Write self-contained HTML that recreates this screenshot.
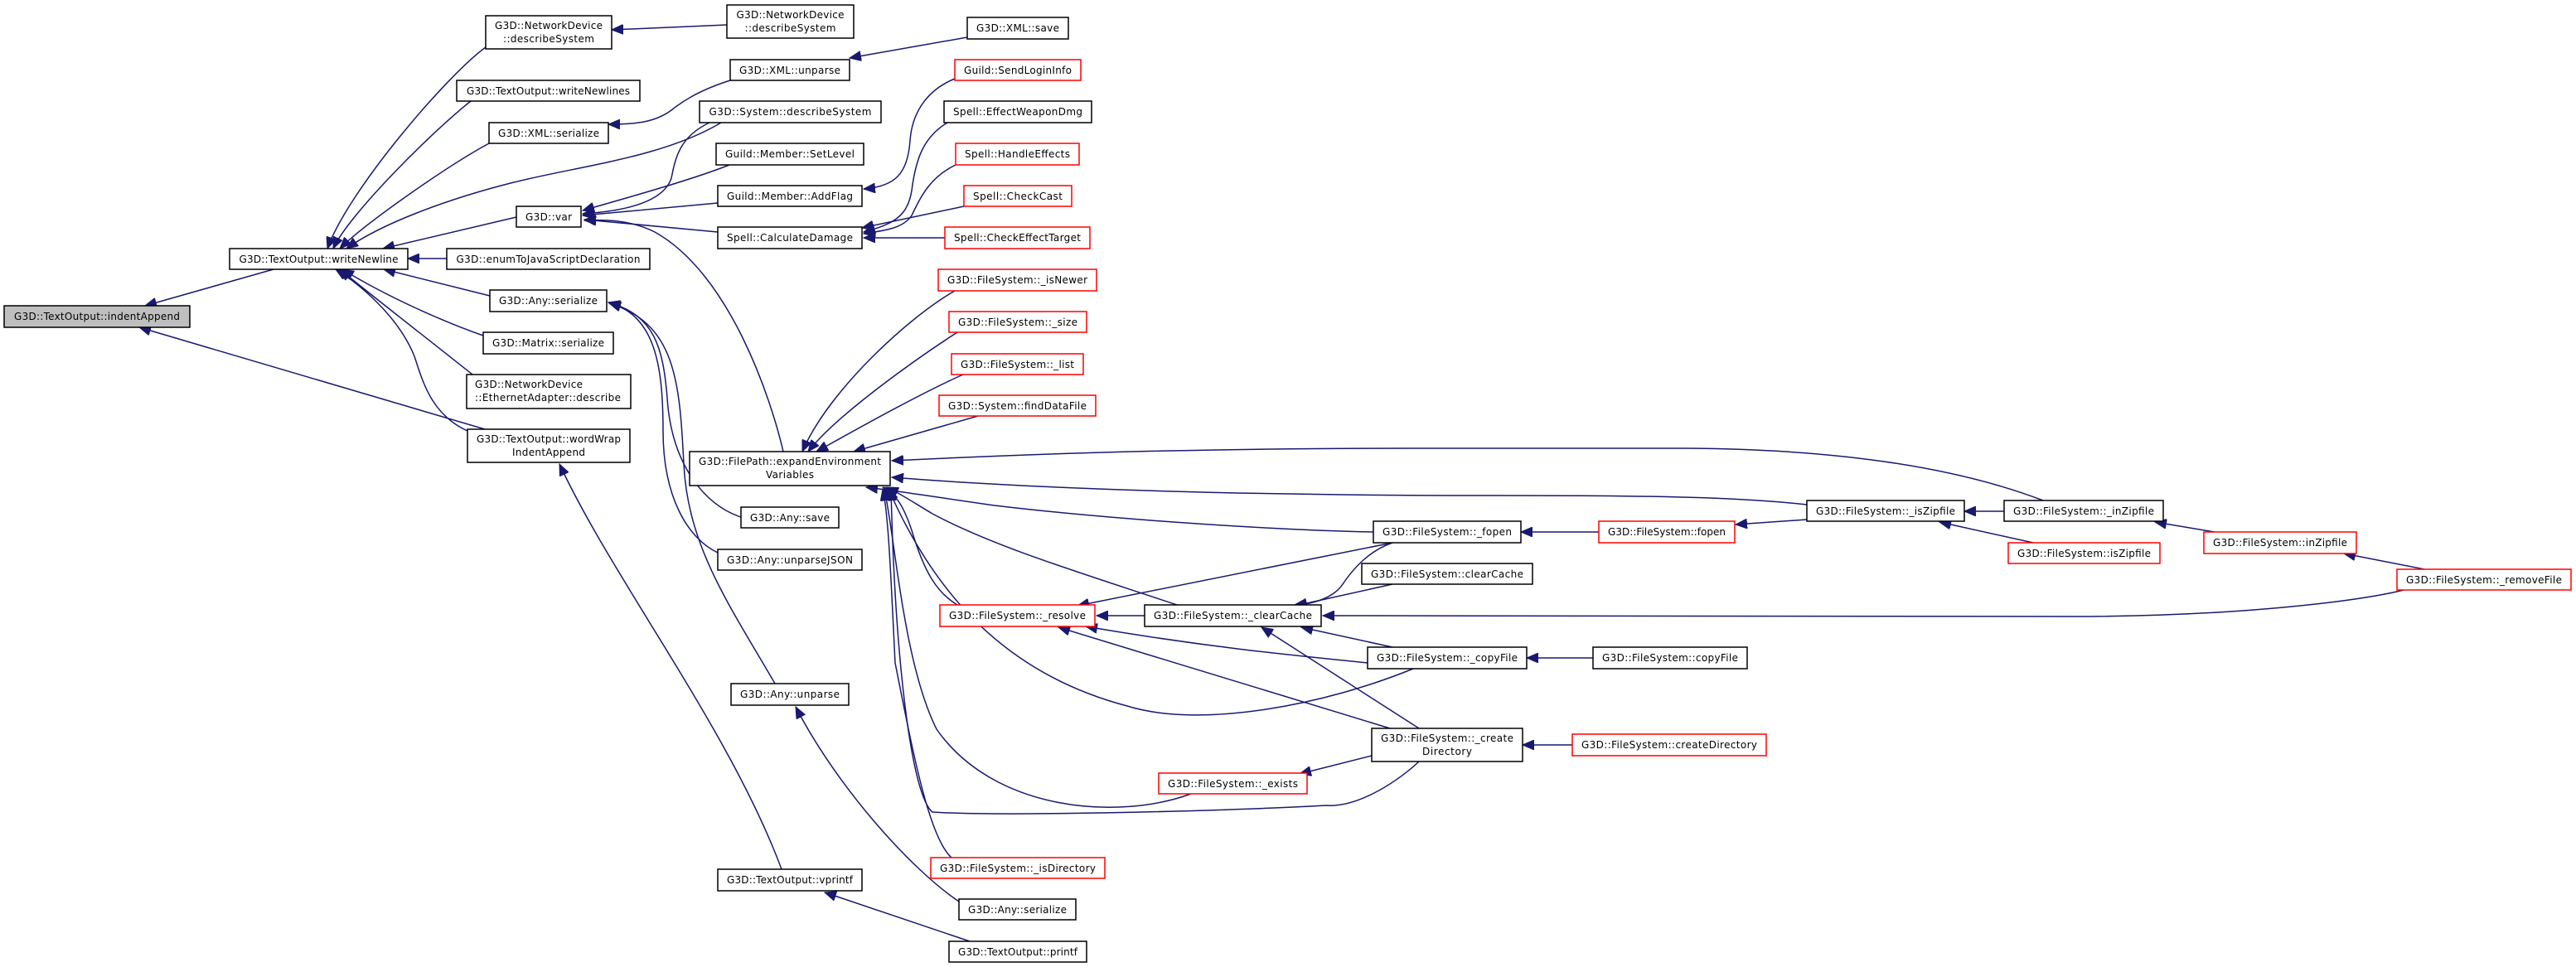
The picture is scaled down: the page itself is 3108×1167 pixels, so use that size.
<!DOCTYPE html>
<html><head><meta charset="utf-8"><style>
html,body{margin:0;padding:0;background:#fff;}
svg{display:block;}
text{font-family:"DejaVu Sans","Liberation Sans",sans-serif;font-size:12px;fill:#000;}
.n{fill:#fff;stroke:#000;stroke-width:1.5;}
.r{fill:#fff;stroke:#ff0000;stroke-width:1.5;}
.g{fill:#bfbfbf;stroke:#000;stroke-width:1.5;}
.e{fill:none;stroke:#191970;stroke-width:1.5;marker-end:url(#a);}
</style></head><body>
<svg width="3108" height="1167" viewBox="0 0 3108 1167" xmlns="http://www.w3.org/2000/svg">
<defs><marker id="a" markerUnits="userSpaceOnUse" markerWidth="16" markerHeight="12" refX="14" refY="6" orient="auto"><path d="M0,0 L14,6 L0,12 z" fill="#191970" stroke="#191970"/></marker></defs>
<g>
<path class="e" d="M330,325 L175,369"/>
<path class="e" d="M585,518 L168,395"/>
<path class="e" d="M586,57 C540,90 420,230 395,300"/>
<path class="e" d="M568,122 C520,160 420,260 402,300"/>
<path class="e" d="M590,173 C540,200 440,270 410,300"/>
<path class="e" d="M870,148 C800,190 700,200 620,220 C540,240 460,270 418,300"/>
<path class="e" d="M623,262 L462,300"/>
<path class="e" d="M539,312 L492,312"/>
<path class="e" d="M591,357 L463,325"/>
<path class="e" d="M583,405 C540,390 470,360 413,325"/>
<path class="e" d="M570,452 C530,420 440,350 410,325"/>
<path class="e" d="M564,520 C520,500 510,460 500,430 C480,380 430,340 405,325"/>
<path class="e" d="M877,30 L738,36"/>
<path class="e" d="M881,97 C840,110 820,125 810,133 C790,148 765,150 734,150"/>
<path class="e" d="M1167,45 L1025,70"/>
<path class="e" d="M1152,95 C1115,110 1100,140 1098,170 C1095,210 1080,225 1042,228"/>
<path class="e" d="M856,148 C820,165 815,190 810,215 C800,245 750,255 703,258"/>
<path class="e" d="M880,199 C840,215 770,235 703,254"/>
<path class="e" d="M866,245 L703,260"/>
<path class="e" d="M866,280 L705,265"/>
<path class="e" d="M945,545 C930,480 880,330 790,280 C760,265 730,265 705,266"/>
<path class="e" d="M1143,148 C1115,165 1105,190 1100,230 C1095,260 1080,270 1042,280"/>
<path class="e" d="M1153,199 C1120,215 1110,240 1100,260 C1090,275 1070,278 1042,282"/>
<path class="e" d="M1163,249 L1040,275"/>
<path class="e" d="M1140,287 L1042,287"/>
<path class="e" d="M894,624 C850,610 810,560 805,480 C800,420 790,380 734,365"/>
<path class="e" d="M866,667 C830,650 800,600 800,520 C800,440 790,380 734,365"/>
<path class="e" d="M935,825 C880,730 830,660 825,560 C820,460 815,390 735,366"/>
<path class="e" d="M1157,1088 C1100,1050 1010,950 960,853"/>
<path class="e" d="M943,1049 C880,880 740,700 675,560"/>
<path class="e" d="M1170,1136 L995,1077"/>
<path class="e" d="M1152,351 C1100,380 1000,470 968,545"/>
<path class="e" d="M1155,401 C1110,430 1010,500 975,545"/>
<path class="e" d="M1162,452 C1110,475 1030,520 985,545"/>
<path class="e" d="M1180,502 L1030,545"/>
<path class="e" d="M2465,604 C2350,560 2200,541 2020,541 L1700,541 C1400,541 1200,550 1076,556"/>
<path class="e" d="M2180,609 C2100,600 2000,598 1800,598 C1500,598 1250,590 1076,576"/>
<path class="e" d="M1657,642 C1550,640 1350,628 1200,610 C1130,600 1080,592 1045,588"/>
<path class="e" d="M1155,730 C1130,715 1115,690 1100,640 C1090,610 1080,595 1065,588"/>
<path class="e" d="M1420,730 C1300,690 1200,660 1125,620 C1100,605 1085,595 1070,588"/>
<path class="e" d="M1705,807 C1600,850 1450,880 1360,852 C1200,810 1120,700 1072,590"/>
<path class="e" d="M1712,919 C1690,940 1640,975 1600,972 C1450,980 1200,985 1125,980 C1100,960 1080,800 1075,590"/>
<path class="e" d="M1437,958 C1350,990 1200,980 1130,880 C1090,800 1080,650 1067,590"/>
<path class="e" d="M1148,1035 C1120,1010 1100,900 1080,800 C1075,700 1072,620 1065,590"/>
<path class="e" d="M2900,712 C2850,725 2700,744 2500,744 L1596,743"/>
<path class="e" d="M1381,743 L1323,743"/>
<path class="e" d="M1680,655 L1300,731"/>
<path class="e" d="M1650,800 C1550,790 1450,780 1310,756"/>
<path class="e" d="M1677,879 L1277,757"/>
<path class="e" d="M1680,655 C1650,665 1630,690 1620,705 C1610,720 1590,728 1560,731"/>
<path class="e" d="M1680,705 L1563,731"/>
<path class="e" d="M1680,781 L1570,757"/>
<path class="e" d="M1712,879 L1522,757"/>
<path class="e" d="M1655,912 L1568,934"/>
<path class="e" d="M1929,642 L1835,642"/>
<path class="e" d="M1922,794 L1842,794"/>
<path class="e" d="M1897,899 L1837,899"/>
<path class="e" d="M2180,627 L2094,633"/>
<path class="e" d="M2418,617 L2370,617"/>
<path class="e" d="M2453,655 L2340,630"/>
<path class="e" d="M2672,642 L2600,630"/>
<path class="e" d="M2925,687 L2828,668"/>
</g>
<g text-anchor="middle">
<rect class="g" x="5" y="369" width="224" height="26"/><text x="117" y="386" textLength="200">G3D::TextOutput::indentAppend</text>
<rect class="n" x="277" y="300" width="215" height="25"/><text x="384.5" y="317" textLength="192">G3D::TextOutput::writeNewline</text>
<rect class="n" x="586" y="19" width="152" height="40"/><text x="662" y="35" textLength="130">G3D::NetworkDevice</text><text x="662" y="51" textLength="110">::describeSystem</text>
<rect class="n" x="877" y="6" width="153" height="40"/><text x="953.5" y="22" textLength="130">G3D::NetworkDevice</text><text x="953.5" y="38" textLength="110">::describeSystem</text>
<rect class="n" x="551" y="97" width="221" height="25"/><text x="661.5" y="114" textLength="197">G3D::TextOutput::writeNewlines</text>
<rect class="n" x="881" y="72" width="144" height="25"/><text x="953" y="89" textLength="122">G3D::XML::unparse</text>
<rect class="n" x="590" y="148" width="144" height="25"/><text x="662" y="165" textLength="122">G3D::XML::serialize</text>
<rect class="n" x="844" y="122" width="219" height="26"/><text x="953.5" y="139" textLength="196">G3D::System::describeSystem</text>
<rect class="n" x="864" y="173" width="178" height="26"/><text x="953" y="190" textLength="156">Guild::Member::SetLevel</text>
<rect class="n" x="866" y="224" width="174" height="25"/><text x="953" y="241" textLength="152">Guild::Member::AddFlag</text>
<rect class="n" x="623" y="249" width="78" height="25"/><text x="662" y="266" textLength="56">G3D::var</text>
<rect class="n" x="866" y="274" width="174" height="26"/><text x="953" y="291" textLength="152">Spell::CalculateDamage</text>
<rect class="n" x="539" y="300" width="245" height="25"/><text x="661.5" y="317" textLength="222">G3D::enumToJavaScriptDeclaration</text>
<rect class="n" x="591" y="350" width="141" height="26"/><text x="661.5" y="367" textLength="119">G3D::Any::serialize</text>
<rect class="n" x="583" y="401" width="157" height="26"/><text x="661.5" y="418" textLength="135">G3D::Matrix::serialize</text>
<rect class="n" x="563" y="452" width="198" height="41"/><text x="573" y="468" text-anchor="start" textLength="130">G3D::NetworkDevice</text><text x="573" y="484" text-anchor="start" textLength="176">::EthernetAdapter::describe</text>
<rect class="n" x="564" y="518" width="196" height="40"/><text x="662" y="534" textLength="174">G3D::TextOutput::wordWrap</text><text x="662" y="550" textLength="88">IndentAppend</text>
<rect class="n" x="832" y="545" width="242" height="41"/><text x="953" y="561" textLength="220">G3D::FilePath::expandEnvironment</text><text x="953" y="577" textLength="58">Variables</text>
<rect class="n" x="894" y="612" width="118" height="25"/><text x="953" y="629" textLength="96">G3D::Any::save</text>
<rect class="n" x="866" y="663" width="174" height="25"/><text x="953" y="680" textLength="152">G3D::Any::unparseJSON</text>
<rect class="n" x="882" y="825" width="142" height="26"/><text x="953" y="842" textLength="120">G3D::Any::unparse</text>
<rect class="n" x="866" y="1049" width="174" height="26"/><text x="953" y="1066" textLength="152">G3D::TextOutput::vprintf</text>
<rect class="n" x="1167" y="21" width="122" height="26"/><text x="1228" y="38" textLength="100">G3D::XML::save</text>
<rect class="r" x="1152" y="72" width="152" height="25"/><text x="1228" y="89" textLength="130">Guild::SendLoginInfo</text>
<rect class="n" x="1139" y="122" width="178" height="26"/><text x="1228" y="139" textLength="156">Spell::EffectWeaponDmg</text>
<rect class="r" x="1153" y="173" width="149" height="26"/><text x="1227.5" y="190" textLength="127">Spell::HandleEffects</text>
<rect class="r" x="1163" y="224" width="130" height="25"/><text x="1228" y="241" textLength="108">Spell::CheckCast</text>
<rect class="r" x="1140" y="274" width="175" height="26"/><text x="1227.5" y="291" textLength="153">Spell::CheckEffectTarget</text>
<rect class="r" x="1132" y="325" width="191" height="26"/><text x="1227.5" y="342" textLength="169">G3D::FileSystem::_isNewer</text>
<rect class="r" x="1145" y="376" width="166" height="25"/><text x="1228" y="393" textLength="144">G3D::FileSystem::_size</text>
<rect class="r" x="1148" y="427" width="159" height="25"/><text x="1227.5" y="444" textLength="137">G3D::FileSystem::_list</text>
<rect class="r" x="1133" y="477" width="189" height="25"/><text x="1227.5" y="494" textLength="167">G3D::System::findDataFile</text>
<rect class="n" x="1657" y="629" width="178" height="26"/><text x="1746" y="646" textLength="156">G3D::FileSystem::_fopen</text>
<rect class="r" x="1929" y="629" width="164" height="26"/><text x="2011" y="646" textLength="142">G3D::FileSystem::fopen</text>
<rect class="n" x="1643" y="680" width="206" height="25"/><text x="1746" y="697" textLength="184">G3D::FileSystem::clearCache</text>
<rect class="r" x="1134" y="730" width="187" height="26"/><text x="1227.5" y="747" textLength="165">G3D::FileSystem::_resolve</text>
<rect class="n" x="1381" y="730" width="213" height="26"/><text x="1487.5" y="747" textLength="191">G3D::FileSystem::_clearCache</text>
<rect class="n" x="1650" y="781" width="192" height="26"/><text x="1746" y="798" textLength="170">G3D::FileSystem::_copyFile</text>
<rect class="n" x="1922" y="781" width="186" height="26"/><text x="2015" y="798" textLength="164">G3D::FileSystem::copyFile</text>
<rect class="n" x="1655" y="879" width="182" height="40"/><text x="1746" y="895" textLength="160">G3D::FileSystem::_create</text><text x="1746" y="911" textLength="60">Directory</text>
<rect class="r" x="1897" y="886" width="234" height="26"/><text x="2014" y="903" textLength="212">G3D::FileSystem::createDirectory</text>
<rect class="r" x="1398" y="933" width="179" height="25"/><text x="1487.5" y="950" textLength="157">G3D::FileSystem::_exists</text>
<rect class="r" x="1123" y="1035" width="210" height="25"/><text x="1228" y="1052" textLength="188">G3D::FileSystem::_isDirectory</text>
<rect class="n" x="1157" y="1085" width="141" height="25"/><text x="1227.5" y="1102" textLength="119">G3D::Any::serialize</text>
<rect class="n" x="1145" y="1136" width="166" height="25"/><text x="1228" y="1153" textLength="144">G3D::TextOutput::printf</text>
<rect class="n" x="2180" y="604" width="190" height="25"/><text x="2275" y="621" textLength="168">G3D::FileSystem::_isZipfile</text>
<rect class="n" x="2418" y="604" width="192" height="25"/><text x="2514" y="621" textLength="170">G3D::FileSystem::_inZipfile</text>
<rect class="r" x="2423" y="655" width="183" height="25"/><text x="2514.5" y="672" textLength="161">G3D::FileSystem::isZipfile</text>
<rect class="r" x="2659" y="642" width="184" height="26"/><text x="2751" y="659" textLength="162">G3D::FileSystem::inZipfile</text>
<rect class="r" x="2892" y="687" width="210" height="25"/><text x="2997" y="704" textLength="188">G3D::FileSystem::_removeFile</text>
</g>
</svg>
</body></html>
